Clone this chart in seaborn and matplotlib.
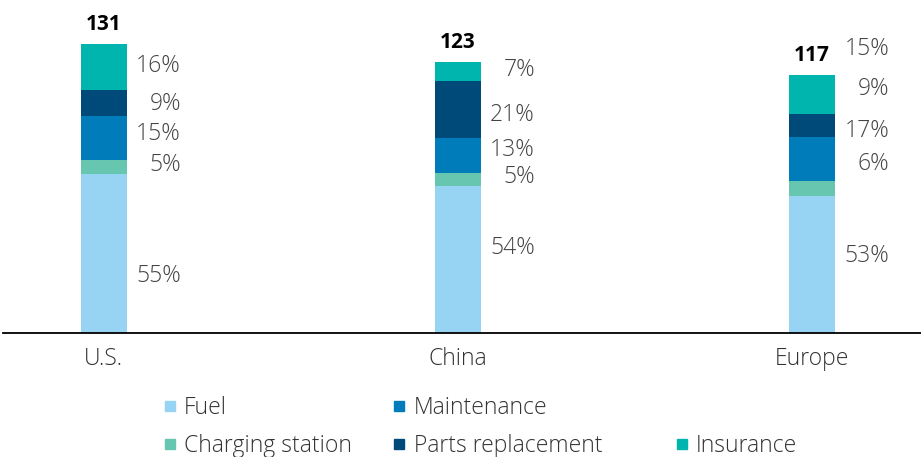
import numpy as np
import pandas as pd
import matplotlib
matplotlib.use("Agg")
import matplotlib.pyplot as plt
from matplotlib.lines import Line2D
import seaborn as sns

# data
regions = ["U.S.", "China", "Europe"]
totals = [131, 123, 117]
segments = ["Fuel", "Charging station", "Maintenance", "Parts replacement", "Insurance"]
fuel_pct = [55, 54, 53]
charging_pct = [5, 5, 6]
maintenance_pct = [15, 13, 17]
parts_pct = [9, 21, 9]
insurance_pct = [16, 7, 15]

colors = ["#97D3F2", "#67C6B0", "#007CBA", "#004A7A", "#00B5AD"]

# label nudges in pixels (down is positive), per segment and region
nudges = {
    "Fuel": [22, -12, -9],
    "Charging station": [-2, -3, -24],
    "Maintenance": [-4, -5, -28],
    "Parts replacement": [1, 6, -36],
    "Insurance": [-1, -1, -45],
}

sns.set_style("white")
plt.rcParams["font.family"] = ["Open Sans", "DejaVu Sans"]

pct = pd.DataFrame({"Fuel": fuel_pct, "Charging station": charging_pct,
                    "Maintenance": maintenance_pct, "Parts replacement": parts_pct,
                    "Insurance": insurance_pct}, index=regions)
vals = pct.mul(totals, axis=0) / 100.0
df = vals.reset_index().rename(columns={"index": "region"})

fig = plt.figure(figsize=(9.21, 4.57), dpi=100)
ax = fig.add_axes([0.003, 124 / 457, 0.997, 313 / 457])

bottom = np.zeros(len(regions))
for seg, col in zip(segments, colors):
    sns.barplot(data=df, x="region", y=seg, bottom=bottom, color=col,
                width=0.13, saturation=1, ax=ax, linewidth=0)
    centers = bottom + df[seg].values / 2
    for i in range(len(regions)):
        ax.annotate(f"{pct[seg].iloc[i]}%", xy=(i + 0.065, centers[i]),
                    xytext=(39, -nudges[seg][i] * 0.72), textcoords="offset points",
                    ha="right", va="center", fontsize=16.5, fontweight="light",
                    color="#444444")
    bottom = bottom + df[seg].values

for i, t in enumerate(totals):
    ax.annotate(str(t), xy=(i, bottom[i]), xytext=(0, 6.5), textcoords="offset points",
                ha="center", va="bottom", fontsize=15, fontweight="bold", color="black")

ax.set_xlim(-0.285, 2.308)
ax.set_ylim(0, 313 / (289 / 131))
ax.set_xlabel("")
ax.set_ylabel("")
ax.set_yticks([])
ax.tick_params(axis="x", length=0, pad=10, labelsize=16.5, labelcolor="#333333")
for lab in ax.get_xticklabels():
    lab.set_fontweight("light")
for s in ["top", "right", "left"]:
    ax.spines[s].set_visible(False)
ax.spines["bottom"].set_color("black")
ax.spines["bottom"].set_linewidth(1.3)
ax.spines["bottom"].set_zorder(5)

handles = [Line2D([], [], ls="", marker="s", markersize=7.2, color=c) for c in colors]
leg_kw = dict(frameon=False, handlelength=0.5, handletextpad=0.37, borderpad=0,
              borderaxespad=0, labelspacing=0.61, prop={"size": 16.5, "weight": "light"})
leg1 = fig.legend(handles[:4], segments[:4], loc="upper left",
                  bbox_to_anchor=(164 / 921, 1 - 396 / 457), ncol=2,
                  columnspacing=1.83, **leg_kw)
leg2 = fig.legend(handles[4:], segments[4:], loc="upper left",
                  bbox_to_anchor=(676 / 921, 1 - 434 / 457), **leg_kw)
for leg in (leg1, leg2):
    for txt in leg.get_texts():
        txt.set_color("#333333")

fig.savefig("out.png", dpi=100)
